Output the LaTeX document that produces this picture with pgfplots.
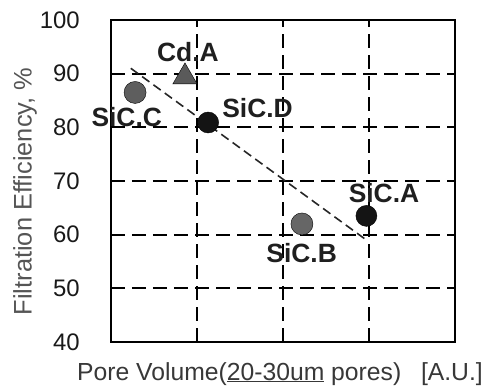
\documentclass[border=0pt]{standalone}
\usepackage{pgfplots}
\pgfplotsset{compat=1.18}
\usepackage{fontspec}
\setmainfont{Liberation Sans}
\definecolor{gC}{HTML}{5E5E5E}
\definecolor{gB}{HTML}{666666}
\definecolor{gT}{HTML}{5A5A5A}
\definecolor{blk}{HTML}{141414}
\definecolor{lbl}{HTML}{555555}
\begin{document}
\begin{tikzpicture}
\useasboundingbox (-111bp,-48bp) rectangle (378bp,342bp);
\begin{axis}[
  at={(0,0)}, anchor=south west,
  scale only axis, width=344bp, height=322bp,
  xmin=0, xmax=4, ymin=40, ymax=100,
  xtick={1,2,3}, xticklabels={},
  ytick={40,50,60,70,80,90,100},
  major tick length=0pt,
  grid=major,
  major grid style={black, line width=1.8bp, dash pattern=on 14bp off 7bp},
  axis line style={black, line width=2bp},
  /pgf/number format/assume math mode=true,
  yticklabel style={font=\fontsize{24}{24}\selectfont, text=black!90, inner sep=0pt, xshift=-31bp, anchor=east},
  clip=false,
]
% trend line
\addplot[draw=black!85, line width=1.6bp, dash pattern=on 9bp off 5bp] coordinates {(0.23,91.0) (2.97,59.0)};
% points
\addplot[only marks, mark=*, mark size=11bp, mark options={fill=gC, draw=none}] coordinates {(0.28,86.5)};
\addplot[only marks, mark=triangle*, mark size=14bp, mark options={fill=gT, draw=none}] coordinates {(0.86,89.4)};
\addplot[only marks, mark=*, mark size=10.5bp, mark options={fill=blk, draw=none}] coordinates {(1.13,80.9)};
\addplot[only marks, mark=*, mark size=11bp, mark options={fill=gB, draw=none}] coordinates {(2.22,62.0)};
\addplot[only marks, mark=*, mark size=10.5bp, mark options={fill=blk, draw=none}] coordinates {(2.97,63.5)};
% point labels
\begin{scope}[every node/.style={font=\fontsize{26.5}{26.5}\selectfont\bfseries, text=black!88, inner sep=0pt}]
\node at (axis cs:0.895,94.0) {Cd.A};
\node at (axis cs:0.183,82.0) {SiC.C};
\node at (axis cs:1.704,83.6) {SiC.D};
\node at (axis cs:3.174,67.8) {SiC.A};
\node at (axis cs:2.217,56.6) {SiC.B};
\end{scope}
\end{axis}
\node[rotate=90, font=\fontsize{25.5}{25.5}\selectfont, text=lbl, inner sep=0pt] at (-86bp,150.5bp) {Filtration Efficiency, \%};
\node[anchor=base, font=\fontsize{24.8}{24.8}\selectfont, text=black!78, inner sep=0pt] at (169bp,-38bp) {Pore Volume(\underline{20-30um} pores)\hspace{0.8em}[A.U.]};
\end{tikzpicture}
\end{document}
